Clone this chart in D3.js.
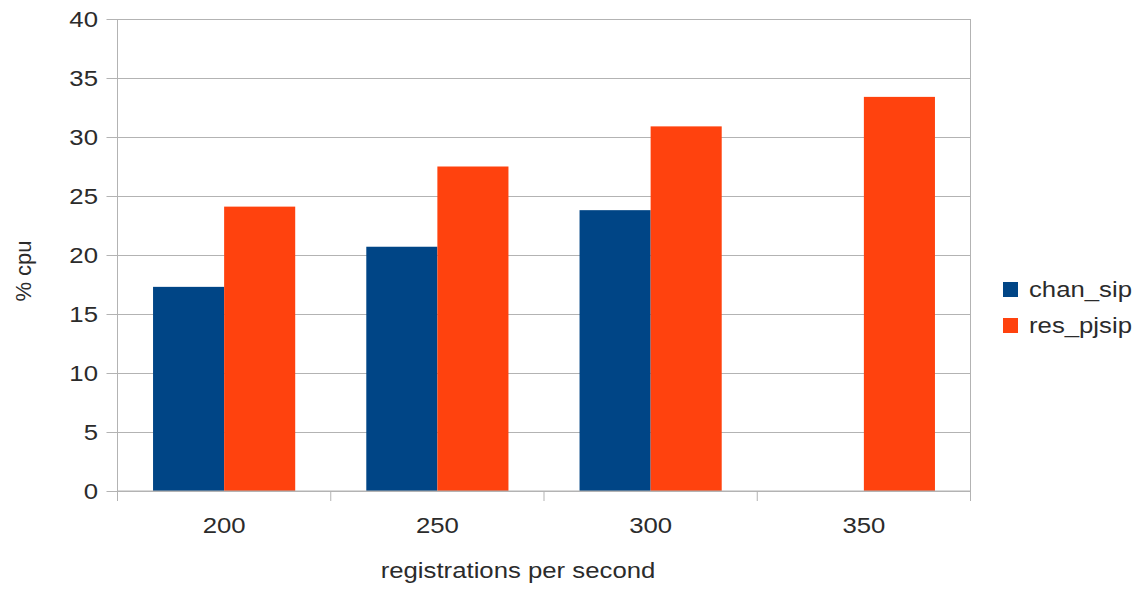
<!DOCTYPE html>
<html>
<head>
<meta charset="utf-8">
<script src="https://cdn.jsdelivr.net/npm/d3@7"></script>
<style>
  html, body { margin: 0; padding: 0; background: #fff; }
  svg text { font-family: "Liberation Sans", Arial, sans-serif; fill: #2b2b2b; }
</style>
</head>
<body>
<svg id="chart" width="1145" height="589"></svg>
<script>
// Registration load test: CPU usage per SIP channel driver
const categories = ["200", "250", "300", "350"];
const seriesNames = ["chan_sip", "res_pjsip"];
const chanSip = [17.3, 20.7, 23.8, null];
const resPjsip = [24.1, 27.5, 30.9, 33.4];
const yTicks = [0, 5, 10, 15, 20, 25, 30, 35, 40];
const colors = ["#004586", "#ff420e"];

const svg = d3.select("#chart");
const margin = { left: 117.5, right: 1145 - 970.5, top: 19, bottom: 589 - 491 };
const plotW = 1145 - margin.left - margin.right;
const plotH = 589 - margin.top - margin.bottom;
const fontSize = 22;
const wide = 1.17; // glyphs are drawn slightly wider than tall

const x = d3.scaleBand().domain(categories).range([0, plotW])
  .paddingInner(1 / 3).paddingOuter(1 / 6);
const xs = d3.scaleBand().domain(seriesNames).range([0, x.bandwidth()]);
const y = d3.scaleLinear().domain([0, 40]).range([plotH, 0]);

const g = svg.append("g").attr("transform", `translate(${margin.left},${margin.top})`);
const gridColor = "#b3b3b3";

function label(parent, tx, ty, text, anchor, rotate) {
  return parent.append("text")
    .attr("transform", `translate(${tx},${ty})` + (rotate ? ` rotate(${rotate})` : ` scale(${wide},1)`))
    .attr("text-anchor", anchor)
    .attr("font-size", fontSize)
    .text(text);
}

// horizontal gridlines with short outer ticks
g.append("g")
  .call(d3.axisLeft(y).tickValues(yTicks).tickSize(-plotW).tickSizeOuter(0))
  .call(a => a.select(".domain").remove())
  .call(a => a.selectAll(".tick line").attr("stroke", gridColor).attr("x1", -11))
  .call(a => a.selectAll(".tick text")
    .attr("x", 0)
    .attr("dy", "0.36em")
    .attr("transform", `translate(-19.5,0) scale(${wide},1)`)
    .attr("font-size", fontSize)
    .attr("font-family", null)
    .attr("fill", null));

// plot frame: left and right edges
g.append("line").attr("x1", 0).attr("x2", 0).attr("y1", 0).attr("y2", plotH).attr("stroke", gridColor);
g.append("line").attr("x1", plotW).attr("x2", plotW).attr("y1", 0).attr("y2", plotH).attr("stroke", gridColor);

// bars
const rows = categories.map((c, i) => ({ cat: c, vals: [chanSip[i], resPjsip[i]] }));
const groups = g.selectAll(".grp").data(rows).join("g")
  .attr("transform", d => `translate(${x(d.cat)},0)`);
groups.selectAll("rect")
  .data(d => d.vals.map((v, j) => ({ v, name: seriesNames[j], j })).filter(e => e.v != null))
  .join("rect")
  .attr("x", e => xs(e.name))
  .attr("width", xs.bandwidth())
  .attr("y", e => y(e.v))
  .attr("height", e => plotH - y(e.v))
  .attr("fill", e => colors[e.j]);

// x axis: baseline, category boundary ticks and labels
const step = x.step();
const boundaries = d3.range(categories.length + 1).map(i => i * step);
g.append("line").attr("x1", 0).attr("x2", plotW).attr("y1", plotH).attr("y2", plotH).attr("stroke", gridColor);
g.selectAll(".xb").data(boundaries).join("line")
  .attr("x1", d => d).attr("x2", d => d)
  .attr("y1", plotH).attr("y2", plotH + 10)
  .attr("stroke", gridColor);
categories.forEach(c => label(g, x(c) + x.bandwidth() / 2, plotH + 42, c, "middle"));

// axis titles
label(svg, 518, 578, "registrations per second", "middle");
label(svg, 31, 271, "% cpu", "middle", -90);

// legend
const legendY = [297, 333];
seriesNames.forEach((name, i) => {
  svg.append("rect").attr("x", 1003).attr("y", legendY[i] - 15)
    .attr("width", 15).attr("height", 15).attr("fill", colors[i]);
  label(svg, 1029, legendY[i], name, "start");
});
</script>
</body>
</html>
